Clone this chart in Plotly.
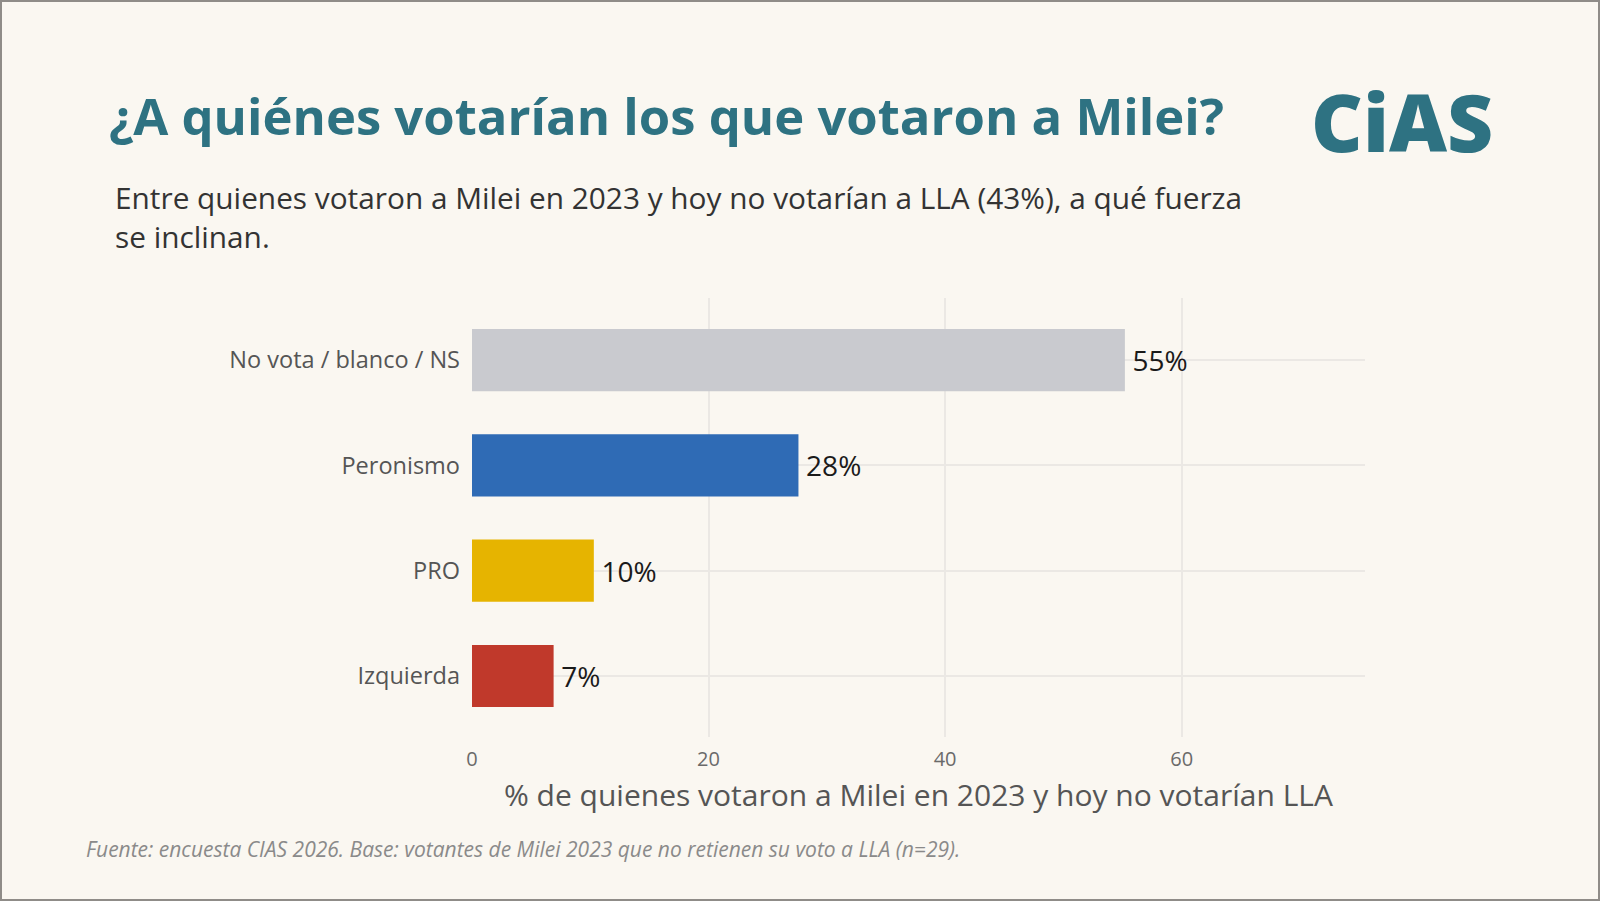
import plotly.graph_objects as go

categories = ["No vota / blanco / NS", "Peronismo", "PRO", "Izquierda"]
values = [55.2, 27.6, 10.3, 6.9]
labels = ["55%", "28%", "10%", "7%"]
colors = ["#c9cacf", "#2f6bb5", "#e6b400", "#c0392b"]
x_ticks = [0, 20, 40, 60]
x_title = "% de quienes votaron a Milei en 2023 y hoy no votarían LLA"

W, H = 1600, 901
L, R, T, B = 472, 235, 298, 164
pw, ph = W - L - R, H - T - B

def px_x(x):
    return (x - L) / pw

def px_y(y):
    return (H - B - y) / ph

BG = "#faf7f1"
TEAL = "#2e7282"
FONT = "Open Sans"

fig = go.Figure(go.Bar(
    x=values, y=categories, orientation="h",
    marker=dict(color=colors, line=dict(width=0)),
    width=0.59,
    text=["\u2009" + t for t in labels], textposition="outside", cliponaxis=False,
    textfont=dict(family=FONT, size=28, color="#1a1a1a"),
    hoverinfo="skip",
))

fig.update_layout(
    width=W, height=H,
    margin=dict(l=L, r=R, t=T, b=B),
    paper_bgcolor=BG, plot_bgcolor=BG,
    showlegend=False,
    font=dict(family=FONT),
    xaxis=dict(
        range=[0, 75.5], tickvals=x_ticks, ticktext=[str(v) for v in x_ticks],
        showgrid=True, gridcolor="#ebe8e4", gridwidth=2, zeroline=False,
        showline=False, ticks="", ticklabelstandoff=8,
        tickfont=dict(family=FONT, size=20, color="#6a6a6a"),
    ),
    yaxis=dict(
        categoryorder="array", categoryarray=categories[::-1],
        range=[-0.58, 3.59],
        showgrid=True, gridcolor="#ebe8e4", gridwidth=2, zeroline=False,
        showline=False, ticks="", ticklabelstandoff=11,
        tickfont=dict(family=FONT, size=23.5, color="#555555"),
    ),
    annotations=[
        dict(text="¿A quiénes votarían los que votaron a Milei?",
             x=px_x(107), y=px_y(152), xref="paper", yref="paper",
             xanchor="left", yanchor="bottom", showarrow=False,
             font=dict(family=FONT, size=50.8, color=TEAL, weight=700)),
        dict(text="CiAS",
             x=px_x(1495), y=px_y(177), xref="paper", yref="paper",
             xanchor="right", yanchor="bottom", showarrow=False,
             font=dict(family=FONT, size=80, color=TEAL, weight=800)),
        dict(text="Entre quienes votaron a Milei en 2023 y hoy no votarían a LLA (43%), a qué fuerza<br>se inclinan.",
             x=px_x(113), y=px_y(175), xref="paper", yref="paper",
             xanchor="left", yanchor="top", align="left", showarrow=False,
             font=dict(family=FONT, size=29.8, color="#333333")),
        dict(text=x_title,
             x=0.5, y=px_y(794), xref="paper", yref="paper",
             xanchor="center", yanchor="middle", showarrow=False,
             font=dict(family=FONT, size=30, color="#555555")),
        dict(text="<i>Fuente: encuesta CIAS 2026. Base: votantes de Milei 2023 que no retienen su voto a LLA (n=29).</i>",
             x=px_x(84), y=px_y(849), xref="paper", yref="paper",
             xanchor="left", yanchor="middle", showarrow=False,
             font=dict(family=FONT, size=21, color="#8a8a8a")),
    ],
    shapes=[
        dict(type="rect", xref="paper", yref="paper",
             x0=px_x(1), x1=px_x(W - 1), y0=px_y(H - 1), y1=px_y(1),
             line=dict(color="#8f8c88", width=2), fillcolor="rgba(0,0,0,0)", layer="above"),
    ],
)

fig.write_html("out.html")
